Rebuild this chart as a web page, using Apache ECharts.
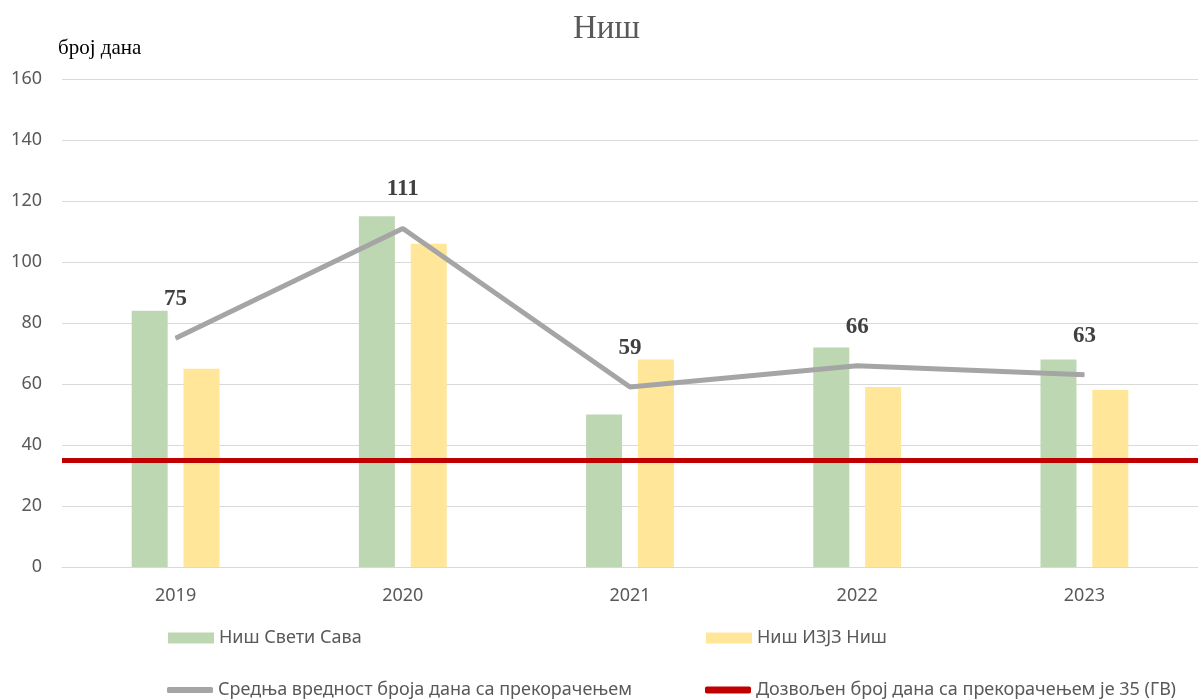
<!DOCTYPE html>
<html>
<head>
<meta charset="utf-8">
<script src="https://cdn.jsdelivr.net/npm/echarts@6/dist/echarts.min.js"></script>
<style>
  html, body { margin: 0; padding: 0; background: #fff; }
  #chart { width: 1198px; height: 700px; }
</style>
</head>
<body>
<div id="chart"></div>
<script>
const years = ['2019', '2020', '2021', '2022', '2023']
const svetiSava = [84, 115, 50, 72, 68]
const izjzNis = [65, 106, 68, 59, 58]
const average = [75, 111, 59, 66, 63]
const limit = 35
const yTicks = { min: 0, max: 160, interval: 20 }

const names = {
  green: 'Ниш Свети Сава',
  yellow: 'Ниш ИЗЈЗ Ниш',
  avg: 'Средња вредност броја дана са прекорачењем',
  limit: 'Дозвољен број дана са прекорачењем је 35 (ГВ)'
}

const chart = echarts.init(document.getElementById('chart'))

const legendText = { fontFamily: 'Noto Sans', fontSize: 18, color: '#595959' }

// one legend per item so the 2x2 layout can be placed like the original
function legendAt(name, left, top, icon, h) {
  return {
    left: left,
    top: top,
    padding: 0,
    itemWidth: 46,
    itemHeight: h,
    icon: icon,
    textStyle: legendText,
    data: [name]
  }
}

chart.setOption({
  animation: false,
  title: {
    text: 'Ниш',
    left: 568,
    top: 8,
    textStyle: { fontFamily: 'Liberation Serif', fontSize: 33, fontWeight: 'normal', color: '#595959' }
  },
  grid: { left: 62, right: 0, top: 79, bottom: 133 },
  legend: [
    legendAt(names.green, 168, 629, 'rect', 11),
    legendAt(names.yellow, 706, 629, 'rect', 11),
    legendAt(names.avg, 167, 681, 'roundRect', 6),
    legendAt(names.limit, 705, 681, 'roundRect', 7)
  ],
  xAxis: {
    type: 'category',
    data: years,
    axisTick: { show: false },
    axisLine: { lineStyle: { color: '#D9D9D9' } },
    axisLabel: { margin: 20, fontFamily: 'Noto Sans', fontSize: 18, color: '#595959' }
  },
  yAxis: {
    type: 'value',
    min: yTicks.min,
    max: yTicks.max,
    interval: yTicks.interval,
    name: 'број дана',
    nameLocation: 'end',
    nameGap: 20,
    nameTextStyle: { align: 'left', padding: [0, 0, 0, -4], fontFamily: 'Liberation Serif', fontSize: 21, color: '#000' },
    axisLabel: { margin: 20, fontFamily: 'Noto Sans', fontSize: 18, color: '#595959' },
    splitLine: { lineStyle: { color: '#D9D9D9' } }
  },
  series: [
    {
      name: names.green,
      type: 'bar',
      data: svetiSava,
      barWidth: 36,
      barGap: '44%',
      itemStyle: { color: '#BDD7B3' }
    },
    {
      name: names.yellow,
      type: 'bar',
      data: izjzNis,
      barWidth: 36,
      itemStyle: { color: '#FFE699' }
    },
    {
      name: names.avg,
      type: 'line',
      data: average,
      symbol: 'circle',
      symbolSize: 1,
      showSymbol: true,
      z: 5,
      lineStyle: { color: '#A5A5A5', width: 5 },
      itemStyle: { color: '#A5A5A5' },
      label: {
        show: true,
        position: 'top',
        offset: [0, -22],
        fontFamily: 'Liberation Serif',
        fontSize: 23,
        fontWeight: 'bold',
        color: '#404040'
      }
    },
    {
      name: names.limit,
      type: 'line',
      data: [],
      symbol: 'none',
      lineStyle: { color: '#C00000', width: 5 },
      itemStyle: { color: '#C00000' },
      markLine: {
        silent: true,
        symbol: 'none',
        label: { show: false },
        lineStyle: { color: '#C00000', width: 5, type: 'solid' },
        data: [{ yAxis: limit }]
      }
    }
  ]
})
</script>
</body>
</html>
